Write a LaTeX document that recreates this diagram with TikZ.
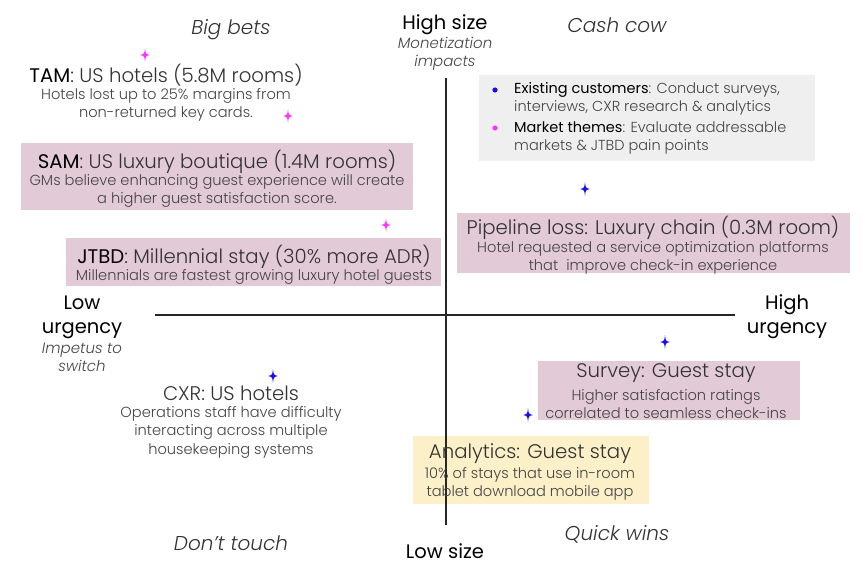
\documentclass[tikz,border=0pt]{standalone}
\usepackage{fontspec}
\setmainfont{Poppins}[UprightFont={* Light}, ItalicFont={* Light Italic}, BoldFont={*}, BoldItalicFont={* Italic}]
\newfontfamily\regfont{Poppins}
\definecolor{pinkbox}{HTML}{E3CAD7}
\definecolor{yellowbox}{HTML}{FCF0C9}
\definecolor{graybox}{HTML}{EFEFEF}
\definecolor{magstar}{HTML}{FF33FF}
\definecolor{bluestar}{HTML}{1A0FEA}
\definecolor{txt}{HTML}{333333}
\definecolor{subtxt}{HTML}{444444}
\tikzset{
  axislabel/.style={font=\fontsize{19.5}{24}\regfont, text=black, inner sep=0pt, yshift=-2pt},
  axisnote/.style={font=\fontsize{15}{18}\itshape, text=subtxt, inner sep=0pt, align=center},
  quad/.style={font=\fontsize{20}{22}\itshape, text=txt, inner sep=0pt, yshift=-1.5pt},
  title/.style={font=\fontsize{19.7}{22}\selectfont, text=txt, inner sep=0pt, yshift=-0.5pt},
  sub/.style={font=\fontsize{14.6}{18.5}\selectfont, text=subtxt, inner sep=0pt, align=center, yshift=-1pt},
  legend/.style={anchor=west, inner sep=0pt, font=\fontsize{14.5}{17.8}\selectfont, text=subtxt, align=left},
  axisline/.style={line width=1.2pt, draw=black!85},
  sparkle/.pic={\fill[#1] (0,-6.8) .. controls (0.7,-1) .. (4.8,0) .. controls (0.7,1) .. (0,6.8) .. controls (-0.7,1) .. (-4.8,0) .. controls (-0.7,-1) .. (0,-6.8) -- cycle;}
}
\begin{document}
\begin{tikzpicture}[x=1pt,y=-1pt]
\useasboundingbox (0,0) rectangle (868,578);
% boxes
\fill[graybox] (479,75) rectangle (815,161);
\fill[pinkbox] (21,143) rectangle (413,210);
\fill[pinkbox] (66,238) rectangle (441,286);
\fill[pinkbox] (457,213) rectangle (850,273);
\fill[pinkbox] (538,361) rectangle (800,420);
\fill[yellowbox] (413,436) rectangle (649,504);
% axes
\coordinate (vtop) at (446,78);
\coordinate (vbot) at (446,525);
\coordinate (hleft) at (155,315);
\coordinate (hright) at (735,315);
\draw[axisline] (vtop) -- (vbot);
\draw[axisline] (hleft) -- (hright);
% axis labels
\node[axislabel] (hs) at (445,23) {High size};
\node[axisnote] (hsn) at (445,54) {Monetization\\impacts};
\node[axislabel] (ls) at (445,549) {Low size};
\node[axislabel, align=center] (lu) at (82,315) {Low\\urgency};
\node[axisnote] (lun) at (82,357) {Impetus to\\switch};
\node[axislabel, align=center] (hu) at (787,315) {High\\urgency};
% quadrants
\node[quad] (q1) at (231,28) {Big bets};
\node[quad] (q2) at (617,24) {Cash cow};
\node[quad] (q3) at (231,542) {Don’t touch};
\node[quad] (q4) at (617,533) {Quick wins};
% legend
\fill[bluestar] (495,90) circle (2.6);
\fill[magstar] (495,128) circle (2.6);
\node[legend] (leg1) at (514,99) {\textcolor{black}{\regfont Existing customers}: Conduct surveys,\\interviews, CXR research \& analytics};
\node[legend] (leg2) at (514,138) {\textcolor{black}{\regfont Market themes}: Evaluate addressable\\markets \& JTBD pain points};
% TAM
\node[title] (tam) at (166,75) {\textcolor{black}{\regfont TAM}: US hotels (5.8M rooms)};
\node[sub] (tams) at (166,104) {Hotels lost up to 25\% margins from\\non-returned key cards.};
% SAM
\node[title] (sam) at (217,161) {\textcolor{black}{\regfont SAM}: US luxury boutique (1.4M rooms)};
\node[sub] (sams) at (217,190) {GMs believe enhancing guest experience will create\\a higher guest satisfaction score.};
% JTBD
\node[title] (jtbd) at (254,256) {\textcolor{black}{\regfont JTBD}: Millennial stay (30\% more ADR)};
\node[sub] (jtbds) at (254,276) {Millennials are fastest growing luxury hotel guests};
% Pipeline
\node[title] (pipe) at (653,227) {Pipeline loss: Luxury chain (0.3M room)};
\node[sub] (pipes) at (653,257) {Hotel requested a service optimization platforms\\that\ \ improve check-in experience};
% Survey
\node[title] (surv) at (666,373) {Survey: Guest stay};
\node[sub] (survs) at (666,403) {Higher satisfaction ratings\\correlated to seamless check-ins};
% Analytics
\node[title] (ana) at (530,453) {Analytics: Guest stay};
\node[sub] (anas) at (530,483) {10\% of stays that use in-room\\tablet download mobile app};
% CXR
\node[title] (cxr) at (231,393) {CXR: US hotels};
\node[sub] (cxrs) at (231,431) {Operations staff have difficulty\\interacting across multiple\\housekeeping systems};
% sparkles
\pic at (145,55) {sparkle=magstar};
\pic at (288,116) {sparkle=magstar};
\pic at (386,225) {sparkle=magstar};
\pic at (585,189) {sparkle=bluestar};
\pic at (665,342) {sparkle=bluestar};
\pic at (528,415) {sparkle=bluestar};
\pic at (273,376) {sparkle=bluestar};
\end{tikzpicture}
\end{document}
